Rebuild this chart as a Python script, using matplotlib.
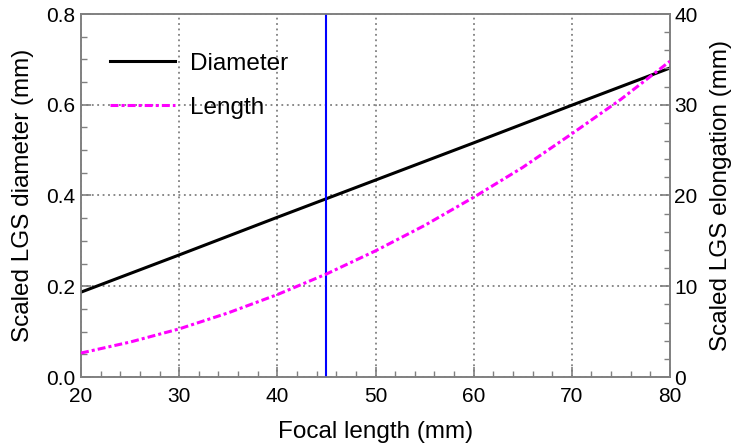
import matplotlib
matplotlib.use('Agg')
import matplotlib.pyplot as plt
from matplotlib.ticker import MultipleLocator, FormatStrFormatter

plt.rcParams['font.family'] = ['Liberation Sans', 'DejaVu Sans']

# Данные
focal_d = [20, 30, 40, 50, 60, 70, 80]
diameter = [0.187, 0.269, 0.352, 0.434, 0.516, 0.599, 0.681]

focal_l = [20, 25, 30, 35, 40, 45, 50, 55, 60, 65, 70, 75, 80]
length = [2.64, 3.85, 5.3, 7.07, 9.08, 11.35, 13.9, 16.7, 19.8, 23.1, 26.8, 30.6, 34.8]

marker_focal = 45

spine_col = '#808080'

fig = plt.figure(figsize=(7.33, 4.44), dpi=100)
ax = fig.add_axes([81 / 733, 1 - 377 / 444, (670 - 81) / 733, (377 - 14) / 444])
ax2 = ax.twinx()

ax.plot(focal_d, diameter, color='black', lw=2.2, label='Diameter', zorder=3)
ax2.plot(focal_l, length, color='magenta', lw=2.2, dashes=(2.6, 1, 1, 1), label='Length', zorder=3)
ax.axvline(marker_focal, color='blue', lw=1.5, zorder=4)

ax.set_xlim(20, 80)
ax.set_ylim(0, 0.8)
ax2.set_ylim(0, 40)

ax.xaxis.set_major_locator(MultipleLocator(10))
ax.xaxis.set_minor_locator(MultipleLocator(2))
ax.yaxis.set_major_locator(MultipleLocator(0.2))
ax.yaxis.set_minor_locator(MultipleLocator(0.05))
ax2.yaxis.set_major_locator(MultipleLocator(10))
ax2.yaxis.set_minor_locator(MultipleLocator(2))
ax.yaxis.set_major_formatter(FormatStrFormatter('%.1f'))

ax.grid(True, which='major', color=spine_col, linestyle=(0, (1, 2)), lw=1.3)

for a in (ax, ax2):
    for s in a.spines.values():
        s.set_color(spine_col)
        s.set_linewidth(1.2)
    a.tick_params(which='both', direction='in', color=spine_col, labelsize=15, top=False)
    a.tick_params(which='major', length=7, width=1.2)
    a.tick_params(which='minor', length=4, width=1.0)
ax.tick_params(axis='x', pad=7)
ax.tick_params(axis='y', pad=4)
ax2.tick_params(axis='y', pad=3)

ax.set_xlabel('Focal length (mm)', fontsize=17.5, labelpad=11)
ax.set_ylabel('Scaled LGS diameter (mm)', fontsize=17.5, labelpad=9)
ax2.set_ylabel('Scaled LGS elongation (mm)', fontsize=17.5, labelpad=9)

h1, l1 = ax.get_legend_handles_labels()
h2, l2 = ax2.get_legend_handles_labels()
leg = ax2.legend(h1 + h2, l1 + l2, loc='upper left', frameon=False, fontsize=17.5,
                 handlelength=2.7, handletextpad=0.6, labelspacing=0.9,
                 bbox_to_anchor=(0.02, 0.94), borderaxespad=0.3)

fig.savefig('out.png', dpi=100)
